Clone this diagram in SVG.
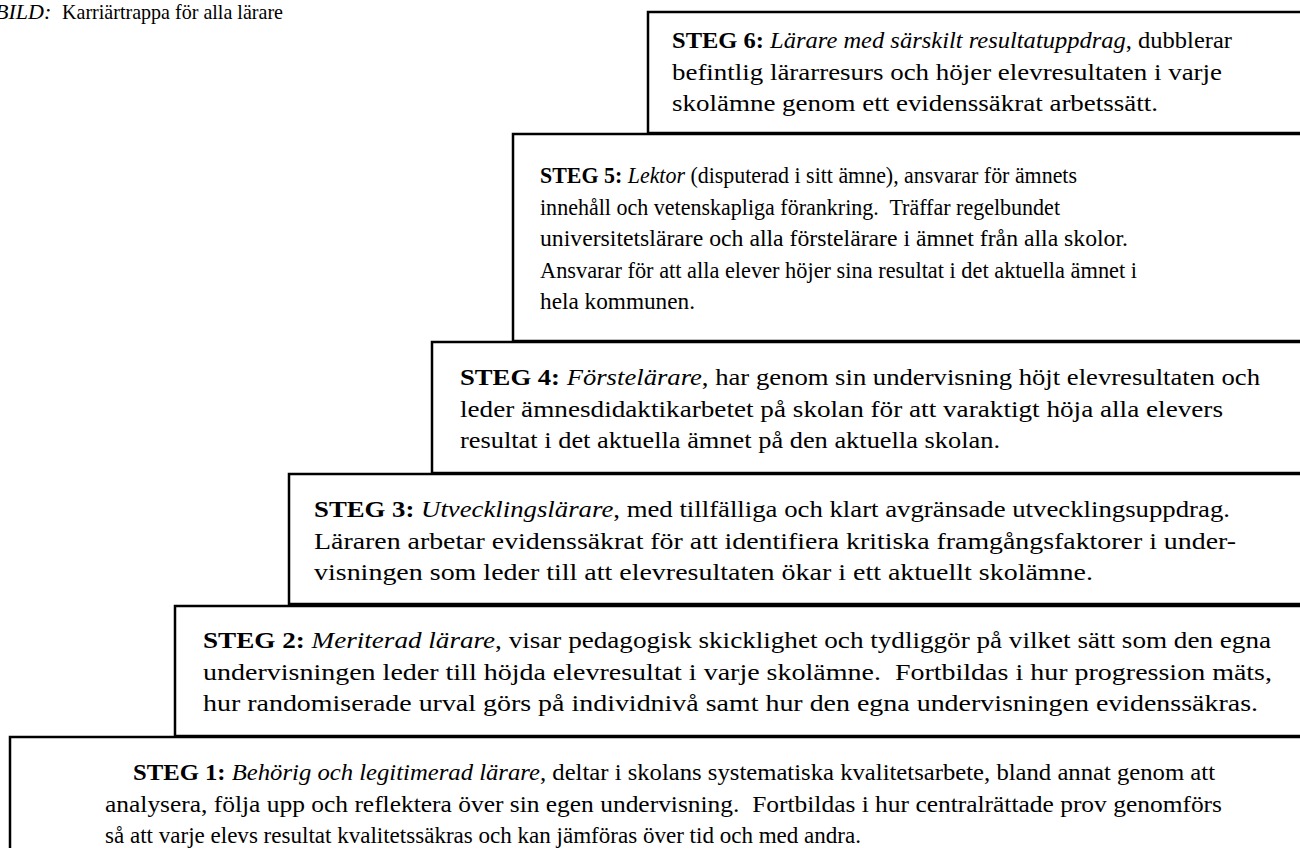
<svg xmlns="http://www.w3.org/2000/svg" width="1300" height="863" viewBox="0 0 1300 863">
<style>
.box{fill:#fff;stroke:#000;stroke-width:2.5}
.edge{fill:none;stroke:#000;stroke-width:2.5}
.t{font-family:"Liberation Serif","Times New Roman",serif;font-size:23px;fill:#000;white-space:pre}
.s{font-size:22px}
.b{font-weight:bold}
.i{font-style:italic}
</style>
<rect x="0" y="0" width="1300" height="863" fill="#fff"/>
<g id="title">
<text class="t s" x="-5" y="19"><tspan class="i">BILD:</tspan></text>
<text class="t s" x="62" y="19" textLength="221" lengthAdjust="spacingAndGlyphs">Karriärtrappa för alla lärare</text>
</g>
<g id="steg6">
<rect class="box" x="648" y="12" width="700" height="121"/>
<text class="t" x="672" y="48" textLength="560" lengthAdjust="spacingAndGlyphs"><tspan class="b">STEG 6:</tspan> <tspan class="i">Lärare med särskilt resultatuppdrag</tspan>, dubblerar</text>
<text class="t" x="672" y="80" textLength="550" lengthAdjust="spacingAndGlyphs">befintlig lärarresurs och höjer elevresultaten i varje</text>
<text class="t" x="672" y="111" textLength="486" lengthAdjust="spacingAndGlyphs">skolämne genom ett evidenssäkrat arbetssätt.</text>
</g>
<g id="steg5">
<rect class="box" x="513" y="134" width="850" height="207"/>
<text class="t" x="540" y="183" textLength="537" lengthAdjust="spacingAndGlyphs"><tspan class="b">STEG 5:</tspan> <tspan class="i">Lektor</tspan> (disputerad i sitt ämne), ansvarar för ämnets</text>
<text class="t" x="540" y="214.5" textLength="520" lengthAdjust="spacingAndGlyphs">innehåll och vetenskapliga förankring.  Träffar regelbundet</text>
<text class="t" x="540" y="246" textLength="588" lengthAdjust="spacingAndGlyphs">universitetslärare och alla förstelärare i ämnet från alla skolor.</text>
<text class="t" x="540" y="277.5" textLength="597" lengthAdjust="spacingAndGlyphs">Ansvarar för att alla elever höjer sina resultat i det aktuella ämnet i</text>
<text class="t" x="540" y="309" textLength="155" lengthAdjust="spacingAndGlyphs">hela kommunen.</text>
</g>
<g id="steg4">
<rect class="box" x="432" y="342" width="900" height="131"/>
<text class="t" x="460" y="385" textLength="800" lengthAdjust="spacingAndGlyphs"><tspan class="b">STEG 4:</tspan> <tspan class="i">Förstelärare</tspan>, har genom sin undervisning höjt elevresultaten och</text>
<text class="t" x="460" y="416.5" textLength="763" lengthAdjust="spacingAndGlyphs">leder ämnesdidaktikarbetet på skolan för att varaktigt höja alla elevers</text>
<text class="t" x="460" y="448" textLength="540" lengthAdjust="spacingAndGlyphs">resultat i det aktuella ämnet på den aktuella skolan.</text>
</g>
<g id="steg3">
<rect class="box" x="289" y="474" width="1050" height="130"/>
<text class="t" x="314" y="517" textLength="916" lengthAdjust="spacingAndGlyphs"><tspan class="b">STEG 3:</tspan> <tspan class="i">Utvecklingslärare</tspan>, med tillfälliga och klart avgränsade utvecklingsuppdrag.</text>
<text class="t" x="314" y="548.5" textLength="922" lengthAdjust="spacingAndGlyphs">Läraren arbetar evidenssäkrat för att identifiera kritiska framgångsfaktorer i under-</text>
<text class="t" x="314" y="580" textLength="779" lengthAdjust="spacingAndGlyphs">visningen som leder till att elevresultaten ökar i ett aktuellt skolämne.</text>
</g>
<g id="steg2">
<rect class="box" x="175" y="606" width="1150" height="130"/>
<text class="t" x="203" y="648" textLength="1068" lengthAdjust="spacingAndGlyphs"><tspan class="b">STEG 2:</tspan> <tspan class="i">Meriterad lärare</tspan>, visar pedagogisk skicklighet och tydliggör på vilket sätt som den egna</text>
<text class="t" x="203" y="679.5" textLength="1069" lengthAdjust="spacingAndGlyphs">undervisningen leder till höjda elevresultat i varje skolämne.  Fortbildas i hur progression mäts,</text>
<text class="t" x="203" y="711" textLength="1055" lengthAdjust="spacingAndGlyphs">hur randomiserade urval görs på individnivå samt hur den egna undervisningen evidenssäkras.</text>
</g>
<g id="steg1">
<rect x="10" y="737" width="1320" height="111" fill="#fff"/>
<path class="edge" d="M10 848 V737 H1310"/>
<text class="t" x="133" y="780" textLength="1082" lengthAdjust="spacingAndGlyphs"><tspan class="b">STEG 1:</tspan> <tspan class="i">Behörig och legitimerad lärare</tspan>, deltar i skolans systematiska kvalitetsarbete, bland annat genom att</text>
<text class="t" x="105" y="811.5" textLength="1117" lengthAdjust="spacingAndGlyphs">analysera, följa upp och reflektera över sin egen undervisning.  Fortbildas i hur centralrättade prov genomförs</text>
<text class="t" x="105" y="843" textLength="756" lengthAdjust="spacingAndGlyphs">så att varje elevs resultat kvalitetssäkras och kan jämföras över tid och med andra.</text>
</g>
<g id="connectors"/>
</svg>
